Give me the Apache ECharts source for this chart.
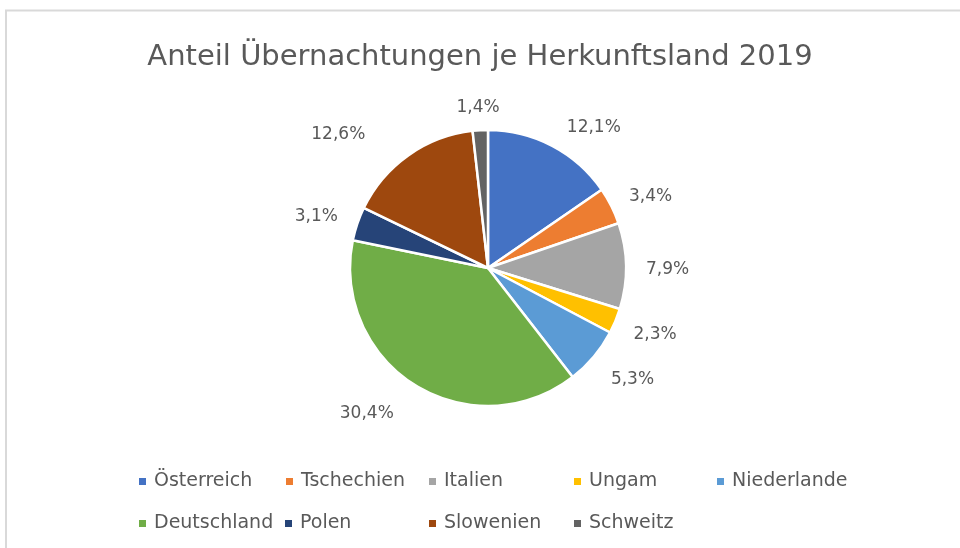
<!DOCTYPE html>
<html>
<head>
<meta charset="utf-8">
<script src="https://cdn.jsdelivr.net/npm/echarts@6/dist/echarts.min.js"></script>
<style>
  html, body { margin: 0; padding: 0; background: #fff; }
  #chart { width: 960px; height: 548px; }
</style>
</head>
<body>
<div id="chart"></div>
<script>
// Herkunftsländer und Anteile (in %)
const countries = ['Österreich', 'Tschechien', 'Italien', 'Ungam', 'Niederlande',
                   'Deutschland', 'Polen', 'Slowenien', 'Schweitz'];
const shares = [12.1, 3.4, 7.9, 2.3, 5.3, 30.4, 3.1, 12.6, 1.4];
const colors = ['#4472C4', '#ED7D31', '#A5A5A5', '#FFC000', '#5B9BD5',
                '#70AD47', '#264478', '#9E480E', '#636363'];

const FONT = '"DejaVu Sans", sans-serif';
const TEXT = '#595959';

// legend slot positions, Excel-like two rows
const legendPos = [
    [137, 472], [284, 472], [427, 472], [572, 472], [715, 472],
    [137, 514], [283, 514], [427, 514], [572, 514]
];
// small shifts so the data labels sit where Excel put them
const labelNudge = [[0, -8], [-2, -4], [-1, 4], [-2, 9], [-1, 15],
                    [-6, 18], [1, -3], [-27, -11], [29, -11]];

const chart = echarts.init(document.getElementById('chart'));

const option = {
    backgroundColor: '#fff',
    color: colors,
    animation: false,
    title: {
        text: 'Anteil Übernachtungen je Herkunftsland 2019',
        left: 'center',
        top: 38,
        textStyle: { fontFamily: FONT, fontSize: 29, fontWeight: 'normal', color: TEXT }
    },
    legend: countries.map((name, i) => ({
        data: [name],
        left: legendPos[i][0],
        top: legendPos[i][1],
        icon: 'rect',
        itemWidth: 9,
        itemHeight: 9,
        padding: 0,
        selectedMode: false,
        textStyle: { fontFamily: FONT, fontSize: 19, color: TEXT, padding: [0, 0, 0, 2] }
    })),
    graphic: [{
        type: 'polyline',
        silent: true,
        shape: { points: [[6, 560], [6, 10.5], [980, 10.5]] },
        style: { stroke: '#d9d9d9', lineWidth: 2, fill: null }
    }],
    series: [{
        type: 'pie',
        center: [488, 268],
        radius: 138,
        startAngle: 90,
        clockwise: true,
        avoidLabelOverlap: false,
        itemStyle: { borderColor: '#fff', borderWidth: 2.5 },
        label: {
            show: true,
            position: 'outside',
            fontFamily: FONT,
            fontSize: 17,
            color: TEXT,
            formatter: p => p.value.toFixed(1).replace('.', ',') + '%'
        },
        labelLine: { show: false, length: 12, length2: 4 },
        labelLayout: p => ({ dx: labelNudge[p.dataIndex][0], dy: labelNudge[p.dataIndex][1] }),
        emphasis: { disabled: true },
        data: countries.map((name, i) => ({ name: name, value: shares[i] }))
    }]
};

chart.setOption(option);
</script>
</body>
</html>
